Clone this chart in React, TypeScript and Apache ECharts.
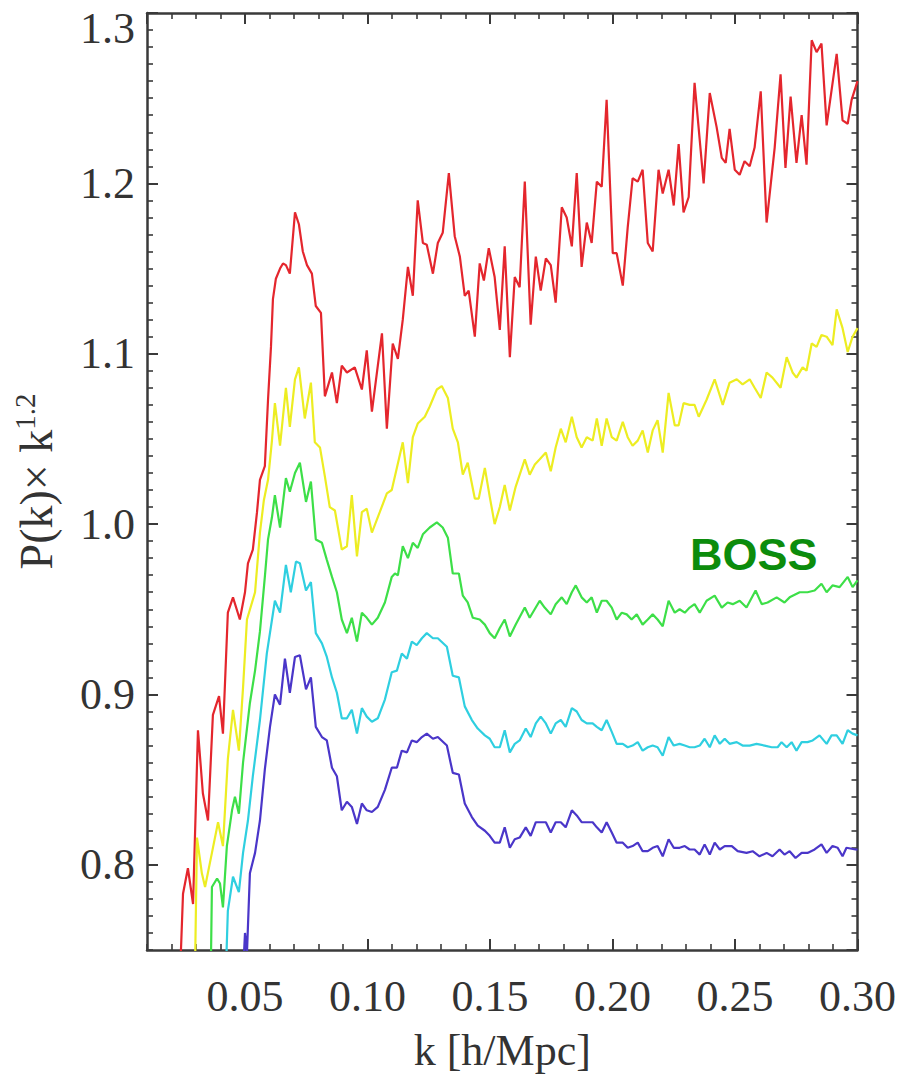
import React, { useEffect, useRef } from "react";
import * as echarts from "echarts";

// k [h/Mpc] , P(k) x k^1.2 (arbitrary, offset curves)
const red: [number, number][] = [
  [0.0226,0.700],[0.0247,0.783],[0.0267,0.798],[0.0288,0.777],[0.0308,0.879],[0.0328,0.842],[0.0349,0.826],[0.0369,0.888],[0.0394,0.899],[0.0410,0.877],
  [0.0430,0.948],[0.0451,0.957],[0.0479,0.944],[0.0500,0.960],[0.0512,0.977],[0.0532,0.985],[0.0549,1.007],[0.0561,1.026],[0.0581,1.034],[0.0594,1.073],
  [0.0606,1.104],[0.0614,1.132],[0.0626,1.144],[0.0643,1.150],[0.0655,1.153],[0.0667,1.152],[0.0683,1.147],[0.0704,1.183],[0.0720,1.176],[0.0736,1.160],
  [0.0753,1.152],[0.0773,1.147],[0.0789,1.128],[0.0810,1.124],[0.0826,1.075],[0.0855,1.089],[0.0875,1.071],[0.0895,1.093],[0.0916,1.089],[0.0948,1.092],
  [0.0977,1.079],[0.0997,1.102],[0.1018,1.066],[0.1059,1.112],[0.1079,1.056],[0.1103,1.106],[0.1124,1.097],[0.1144,1.120],[0.1165,1.151],[0.1185,1.134],
  [0.1205,1.190],[0.1226,1.165],[0.1242,1.164],[0.1267,1.147],[0.1287,1.165],[0.1307,1.171],[0.1332,1.206],[0.1356,1.169],[0.1377,1.157],[0.1397,1.134],
  [0.1413,1.137],[0.1438,1.110],[0.1458,1.153],[0.1475,1.143],[0.1495,1.162],[0.1519,1.145],[0.1540,1.114],[0.1560,1.163],[0.1581,1.098],[0.1601,1.145],
  [0.1621,1.139],[0.1642,1.201],[0.1666,1.117],[0.1687,1.157],[0.1707,1.137],[0.1728,1.156],[0.1748,1.152],[0.1768,1.130],[0.1793,1.186],[0.1813,1.180],
  [0.1834,1.163],[0.1854,1.206],[0.1874,1.151],[0.1895,1.177],[0.1915,1.165],[0.1936,1.201],[0.1956,1.198],[0.1976,1.249],[0.2001,1.159],[0.2017,1.159],
  [0.2042,1.140],[0.2062,1.174],[0.2082,1.203],[0.2103,1.201],[0.2123,1.208],[0.2144,1.165],[0.2164,1.160],[0.2188,1.208],[0.2205,1.194],[0.2229,1.208],
  [0.2250,1.187],[0.2270,1.223],[0.2290,1.183],[0.2311,1.192],[0.2335,1.259],[0.2372,1.200],[0.2397,1.253],[0.2425,1.233],[0.2446,1.215],[0.2462,1.212],
  [0.2478,1.232],[0.2499,1.208],[0.2519,1.205],[0.2539,1.213],[0.2560,1.210],[0.2580,1.221],[0.2605,1.254],[0.2629,1.177],[0.2662,1.221],[0.2686,1.264],
  [0.2706,1.209],[0.2727,1.251],[0.2751,1.212],[0.2772,1.240],[0.2792,1.211],[0.2813,1.284],[0.2833,1.277],[0.2853,1.282],[0.2874,1.234],[0.2915,1.276],
  [0.2939,1.237],[0.2960,1.235],[0.2976,1.249],[0.3000,1.260],
];

const yellow: [number, number][] = [
  [0.0292,0.700],[0.0304,0.816],[0.0324,0.795],[0.0337,0.787],[0.0365,0.807],[0.0390,0.825],[0.0410,0.811],[0.0430,0.862],[0.0451,0.891],[0.0475,0.867],
  [0.0492,0.904],[0.0508,0.944],[0.0541,0.960],[0.0561,0.995],[0.0577,1.014],[0.0594,1.026],[0.0610,1.049],[0.0622,1.071],[0.0643,1.046],[0.0667,1.080],
  [0.0683,1.057],[0.0704,1.085],[0.0720,1.092],[0.0744,1.062],[0.0769,1.083],[0.0785,1.048],[0.0806,1.045],[0.0826,1.028],[0.0846,1.010],[0.0867,1.008],
  [0.0895,0.985],[0.0916,0.987],[0.0936,1.017],[0.0957,0.981],[0.0977,1.007],[0.0997,1.009],[0.1018,0.995],[0.1050,1.007],[0.1079,1.018],[0.1099,1.020],
  [0.1144,1.048],[0.1165,1.024],[0.1185,1.051],[0.1205,1.059],[0.1234,1.063],[0.1254,1.069],[0.1283,1.079],[0.1303,1.081],[0.1328,1.074],[0.1348,1.056],
  [0.1369,1.048],[0.1389,1.029],[0.1409,1.036],[0.1438,1.015],[0.1454,1.015],[0.1479,1.033],[0.1499,1.016],[0.1519,1.000],[0.1540,1.010],[0.1560,1.023],
  [0.1581,1.008],[0.1605,1.022],[0.1642,1.038],[0.1662,1.029],[0.1683,1.035],[0.1703,1.038],[0.1728,1.042],[0.1748,1.031],[0.1768,1.045],[0.1789,1.056],
  [0.1809,1.048],[0.1834,1.063],[0.1854,1.051],[0.1874,1.045],[0.1895,1.051],[0.1919,1.049],[0.1936,1.062],[0.1956,1.046],[0.1976,1.062],[0.1997,1.051],
  [0.2017,1.049],[0.2042,1.060],[0.2062,1.051],[0.2082,1.046],[0.2103,1.049],[0.2123,1.055],[0.2144,1.042],[0.2164,1.055],[0.2184,1.061],[0.2205,1.042],
  [0.2229,1.077],[0.2254,1.058],[0.2270,1.058],[0.2290,1.071],[0.2315,1.070],[0.2335,1.070],[0.2352,1.063],[0.2384,1.073],[0.2417,1.085],[0.2450,1.070],
  [0.2478,1.083],[0.2507,1.085],[0.2531,1.082],[0.2560,1.085],[0.2580,1.080],[0.2605,1.074],[0.2629,1.089],[0.2653,1.086],[0.2686,1.080],[0.2711,1.098],
  [0.2735,1.089],[0.2751,1.086],[0.2776,1.092],[0.2792,1.090],[0.2813,1.106],[0.2833,1.104],[0.2853,1.111],[0.2874,1.110],[0.2898,1.105],[0.2915,1.126],
  [0.2939,1.115],[0.2960,1.101],[0.2980,1.110],[0.3000,1.115],
];

const green: [number, number][] = [
  [0.0357,0.700],[0.0365,0.787],[0.0386,0.792],[0.0398,0.789],[0.0410,0.775],[0.0426,0.811],[0.0447,0.832],[0.0459,0.840],[0.0475,0.830],[0.0492,0.860],
  [0.0520,0.895],[0.0541,0.914],[0.0561,0.937],[0.0581,0.969],[0.0594,0.991],[0.0610,1.004],[0.0622,1.017],[0.0643,0.998],[0.0667,1.027],[0.0683,1.019],
  [0.0704,1.030],[0.0724,1.036],[0.0749,1.013],[0.0769,1.025],[0.0789,0.991],[0.0814,0.989],[0.0834,0.979],[0.0855,0.969],[0.0875,0.960],[0.0895,0.944],
  [0.0916,0.936],[0.0936,0.945],[0.0957,0.931],[0.0977,0.948],[0.0997,0.945],[0.1018,0.941],[0.1042,0.945],[0.1071,0.954],[0.1099,0.969],[0.1112,0.971],
  [0.1124,0.970],[0.1144,0.987],[0.1165,0.980],[0.1185,0.989],[0.1205,0.986],[0.1226,0.994],[0.1254,0.998],[0.1283,1.001],[0.1307,0.998],[0.1328,0.992],
  [0.1348,0.971],[0.1373,0.971],[0.1389,0.958],[0.1409,0.954],[0.1430,0.945],[0.1458,0.944],[0.1479,0.941],[0.1499,0.936],[0.1519,0.933],[0.1540,0.939],
  [0.1560,0.944],[0.1581,0.934],[0.1605,0.941],[0.1642,0.951],[0.1662,0.945],[0.1703,0.955],[0.1723,0.951],[0.1748,0.947],[0.1768,0.953],[0.1793,0.957],
  [0.1813,0.953],[0.1834,0.960],[0.1850,0.964],[0.1874,0.957],[0.1895,0.954],[0.1915,0.957],[0.1936,0.948],[0.1956,0.955],[0.1976,0.955],[0.1997,0.951],
  [0.2017,0.944],[0.2038,0.948],[0.2058,0.947],[0.2078,0.944],[0.2099,0.947],[0.2123,0.941],[0.2144,0.944],[0.2164,0.947],[0.2184,0.944],[0.2205,0.940],
  [0.2229,0.955],[0.2254,0.948],[0.2274,0.950],[0.2295,0.948],[0.2315,0.951],[0.2335,0.953],[0.2356,0.948],[0.2384,0.955],[0.2417,0.958],[0.2446,0.951],
  [0.2470,0.954],[0.2491,0.953],[0.2519,0.955],[0.2547,0.951],[0.2584,0.961],[0.2609,0.953],[0.2633,0.954],[0.2670,0.957],[0.2702,0.954],[0.2723,0.957],
  [0.2764,0.960],[0.2796,0.960],[0.2825,0.961],[0.2853,0.965],[0.2874,0.960],[0.2898,0.964],[0.2927,0.963],[0.2960,0.969],[0.2980,0.963],[0.3000,0.967],
];

const cyan: [number, number][] = [
  [0.0414,0.700],[0.0430,0.773],[0.0451,0.793],[0.0475,0.784],[0.0492,0.807],[0.0512,0.826],[0.0532,0.852],[0.0561,0.885],[0.0589,0.924],[0.0622,0.955],
  [0.0643,0.948],[0.0667,0.976],[0.0687,0.960],[0.0708,0.978],[0.0724,0.977],[0.0749,0.961],[0.0769,0.966],[0.0789,0.936],[0.0814,0.930],[0.0834,0.922],
  [0.0855,0.910],[0.0875,0.901],[0.0895,0.886],[0.0916,0.886],[0.0936,0.891],[0.0957,0.877],[0.0977,0.892],[0.0997,0.887],[0.1018,0.884],[0.1042,0.886],
  [0.1071,0.897],[0.1099,0.913],[0.1120,0.914],[0.1140,0.924],[0.1161,0.921],[0.1181,0.931],[0.1201,0.929],[0.1222,0.933],[0.1242,0.936],[0.1267,0.933],
  [0.1287,0.933],[0.1324,0.928],[0.1348,0.911],[0.1373,0.910],[0.1397,0.893],[0.1426,0.885],[0.1450,0.880],[0.1479,0.876],[0.1499,0.874],[0.1519,0.869],
  [0.1540,0.869],[0.1560,0.879],[0.1581,0.866],[0.1601,0.871],[0.1621,0.873],[0.1646,0.880],[0.1666,0.875],[0.1687,0.883],[0.1707,0.887],[0.1728,0.883],
  [0.1748,0.877],[0.1768,0.883],[0.1789,0.885],[0.1809,0.881],[0.1834,0.892],[0.1854,0.890],[0.1874,0.885],[0.1895,0.883],[0.1919,0.883],[0.1936,0.881],
  [0.1956,0.879],[0.1976,0.885],[0.1997,0.878],[0.2017,0.871],[0.2042,0.871],[0.2062,0.869],[0.2082,0.870],[0.2103,0.872],[0.2123,0.867],[0.2144,0.869],
  [0.2164,0.870],[0.2184,0.869],[0.2205,0.864],[0.2229,0.875],[0.2250,0.870],[0.2274,0.871],[0.2295,0.870],[0.2315,0.869],[0.2335,0.869],[0.2356,0.870],
  [0.2376,0.874],[0.2397,0.869],[0.2417,0.876],[0.2438,0.871],[0.2458,0.874],[0.2478,0.871],[0.2507,0.872],[0.2531,0.870],[0.2560,0.870],[0.2588,0.871],
  [0.2621,0.870],[0.2650,0.869],[0.2674,0.869],[0.2690,0.872],[0.2711,0.869],[0.2731,0.872],[0.2751,0.867],[0.2772,0.872],[0.2796,0.872],[0.2817,0.873],
  [0.2845,0.876],[0.2874,0.871],[0.2894,0.876],[0.2915,0.876],[0.2939,0.871],[0.2960,0.879],[0.2980,0.877],[0.3000,0.876],
];

const blue: [number, number][] = [
  [0.0480,0.700],[0.0500,0.760],[0.0508,0.748],[0.0520,0.795],[0.0541,0.807],[0.0561,0.826],[0.0581,0.856],[0.0602,0.881],[0.0622,0.900],[0.0643,0.894],
  [0.0663,0.921],[0.0683,0.901],[0.0704,0.922],[0.0724,0.923],[0.0749,0.903],[0.0769,0.910],[0.0789,0.881],[0.0814,0.875],[0.0834,0.873],[0.0855,0.857],
  [0.0875,0.852],[0.0895,0.832],[0.0916,0.837],[0.0936,0.834],[0.0957,0.824],[0.0977,0.836],[0.0997,0.832],[0.1018,0.831],[0.1042,0.834],[0.1071,0.844],
  [0.1099,0.857],[0.1120,0.857],[0.1140,0.867],[0.1161,0.866],[0.1181,0.873],[0.1201,0.872],[0.1222,0.875],[0.1242,0.877],[0.1267,0.874],[0.1287,0.875],
  [0.1324,0.870],[0.1348,0.854],[0.1373,0.853],[0.1397,0.836],[0.1426,0.828],[0.1450,0.823],[0.1479,0.820],[0.1499,0.817],[0.1519,0.813],[0.1540,0.813],
  [0.1560,0.822],[0.1581,0.810],[0.1601,0.815],[0.1621,0.816],[0.1646,0.822],[0.1666,0.817],[0.1687,0.825],[0.1707,0.825],[0.1728,0.825],[0.1748,0.819],
  [0.1768,0.825],[0.1789,0.825],[0.1809,0.822],[0.1834,0.832],[0.1854,0.829],[0.1874,0.825],[0.1895,0.825],[0.1919,0.825],[0.1936,0.822],[0.1956,0.819],
  [0.1976,0.825],[0.1997,0.819],[0.2017,0.813],[0.2042,0.813],[0.2062,0.810],[0.2082,0.811],[0.2103,0.813],[0.2123,0.808],[0.2144,0.808],[0.2164,0.810],
  [0.2184,0.811],[0.2205,0.805],[0.2229,0.815],[0.2250,0.810],[0.2274,0.810],[0.2295,0.811],[0.2315,0.809],[0.2335,0.809],[0.2356,0.806],[0.2376,0.812],
  [0.2397,0.806],[0.2417,0.813],[0.2438,0.809],[0.2458,0.811],[0.2487,0.811],[0.2511,0.808],[0.2547,0.807],[0.2572,0.808],[0.2600,0.805],[0.2629,0.807],
  [0.2653,0.805],[0.2682,0.809],[0.2702,0.806],[0.2723,0.808],[0.2747,0.804],[0.2772,0.807],[0.2796,0.807],[0.2825,0.809],[0.2853,0.812],[0.2874,0.807],
  [0.2898,0.811],[0.2919,0.810],[0.2939,0.805],[0.2955,0.810],[0.2992,0.809],[0.3000,0.809],
];

const SERIES = [
  { name: "red", data: red, color: "#e4262d" },
  { name: "yellow", data: yellow, color: "#eded22" },
  { name: "green", data: green, color: "#3ddf48" },
  { name: "cyan", data: cyan, color: "#2fcfe0" },
  { name: "blue", data: blue, color: "#4a36c9" },
];

const X_MIN = 0.01, X_MAX = 0.30;
const Y_MIN = 0.75, Y_MAX = 1.3;
const X_TITLE = "k [h/Mpc]";
const ANNOTATION = "BOSS";

const FONT = "'Liberation Serif', serif";
const AXIS_COLOR = "#3a3a3a";
const TEXT_COLOR = "#333";

export default function App() {
  const ref = useRef<HTMLDivElement>(null);
  useEffect(() => {
    if (!ref.current) return;
    const chart = echarts.init(ref.current, null, { renderer: "svg" });
    const majorTick = { show: true, inside: true, length: 11, lineStyle: { color: AXIS_COLOR, width: 2 } };
    const minorTick = { show: true, inside: true, length: 6, lineStyle: { color: AXIS_COLOR, width: 1.6 } };
    const line = { show: true, onZero: false, lineStyle: { color: AXIS_COLOR, width: 2.5 } };
    const labelBase = { fontFamily: FONT, fontSize: 44, color: TEXT_COLOR };

    const xMajor = (pos: string, labels: boolean) => ({
      type: "value", position: pos, min: X_MIN, max: X_MAX, splitNumber: 5,
      axisLine: line, axisTick: majorTick, splitLine: { show: false },
      axisLabel: labels
        ? { ...labelBase, margin: 24, showMinLabel: false, formatter: (v: number) => v.toFixed(2) }
        : { show: false },
      ...(labels
        ? { name: X_TITLE, nameLocation: "middle", nameGap: 78, nameTextStyle: { ...labelBase, fontSize: 44 } }
        : {}),
    });
    const xMinor = (pos: string) => ({
      type: "value", position: pos, min: X_MIN, max: X_MAX, interval: 0.01,
      axisLine: { show: false }, axisTick: minorTick, axisLabel: { show: false }, splitLine: { show: false },
    });
    const yMajor = (pos: string, labels: boolean) => ({
      type: "value", position: pos, min: Y_MIN, max: Y_MAX, splitNumber: 5,
      axisLine: line, axisTick: majorTick, splitLine: { show: false },
      axisLabel: labels
        ? {
            ...labelBase, margin: 12, showMinLabel: false,
            formatter: (v: number) => (Math.abs(v - 1.3) < 1e-6 ? "{t|1.3}" : v.toFixed(1)),
            rich: { t: { ...labelBase, padding: [30, 0, 0, 0] } },
          }
        : { show: false },
      ...(labels
        ? {
            name: "{a|P(k)× k}{s|1.2}", nameLocation: "middle", nameGap: 84, nameRotate: 90,
            nameTextStyle: {
              rich: {
                a: { fontFamily: FONT, fontSize: 46, color: TEXT_COLOR },
                s: { fontFamily: FONT, fontSize: 29, color: TEXT_COLOR, padding: [0, 0, 24, 0] },
              },
            },
          }
        : {}),
    });
    const yMinor = (pos: string) => ({
      type: "value", position: pos, min: Y_MIN, max: Y_MAX, interval: 0.01,
      axisLine: { show: false }, axisTick: minorTick, axisLabel: { show: false }, splitLine: { show: false },
    });

    chart.setOption({
      animation: false,
      backgroundColor: "#ffffff",
      grid: { left: 147, right: 41, top: 13, bottom: 131, containLabel: false },
      xAxis: [xMajor("bottom", true), xMinor("bottom"), xMajor("top", false), xMinor("top")],
      yAxis: [yMajor("left", true), yMinor("left"), yMajor("right", false), yMinor("right")],
      series: SERIES.map((s) => ({
        name: s.name, type: "line", data: s.data, xAxisIndex: 0, yAxisIndex: 0,
        showSymbol: false, symbol: "none", clip: true,
        lineStyle: { color: s.color, width: 2.2 }, itemStyle: { color: s.color },
      })),
      graphic: [
        {
          type: "text", left: 690, top: 532, z: 100,
          style: { text: ANNOTATION, fontFamily: "'Liberation Sans', Arial, sans-serif", fontWeight: "bold", fontSize: 45, fill: "#0c8c0c" },
        },
      ],
    });
    return () => chart.dispose();
  }, []);
  return <div ref={ref} style={{ position: "absolute", left: 0, top: 0, width: 899, height: 1081, background: "#fff" }} />;
}
